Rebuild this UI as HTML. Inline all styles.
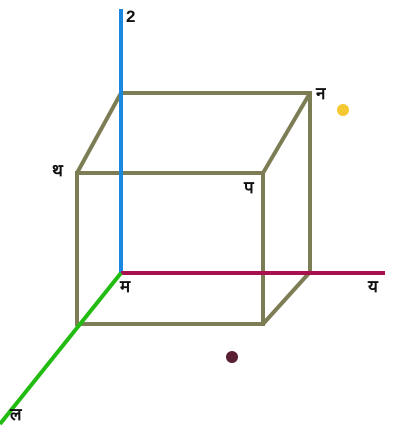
<!DOCTYPE html>
<html><head><meta charset="utf-8"><style>
html,body{margin:0;padding:0;background:#fff;width:405px;height:442px;overflow:hidden}
svg text{font-family:"Liberation Sans","Noto Sans CJK SC","WenQuanYi Zen Hei",sans-serif;font-weight:bold;font-size:17px;fill:#111}
</style></head><body>
<svg width="405" height="442" viewBox="0 0 405 442">
<g stroke="#7d7d55" stroke-width="4" fill="none">
<polyline points="310,272 310,93 121,93"/>
<rect x="77" y="173" width="186" height="151"/>
<line x1="77" y1="173" x2="121" y2="93"/>
<line x1="263" y1="173" x2="310" y2="93"/>
<line x1="263" y1="324" x2="310" y2="272"/>
</g>
<line x1="121" y1="9" x2="121" y2="274" stroke="#1a88e0" stroke-width="4"/>
<line x1="121" y1="273" x2="385" y2="273" stroke="#a8104e" stroke-width="4"/>
<line x1="121" y1="273" x2="0" y2="424" stroke="#22bb11" stroke-width="4"/>
<circle cx="343" cy="110" r="6" fill="#f5c832"/>
<circle cx="232" cy="357" r="6" fill="#5a1f33"/>
<text x="126" y="22">2</text>
<text x="316" y="99">न</text>
<text x="52" y="176">थ</text>
<text x="244" y="193">प</text>
<text x="120" y="292">म</text>
<text x="368" y="292">य</text>
<text x="10" y="420">ल</text>
</svg>
</body></html>
